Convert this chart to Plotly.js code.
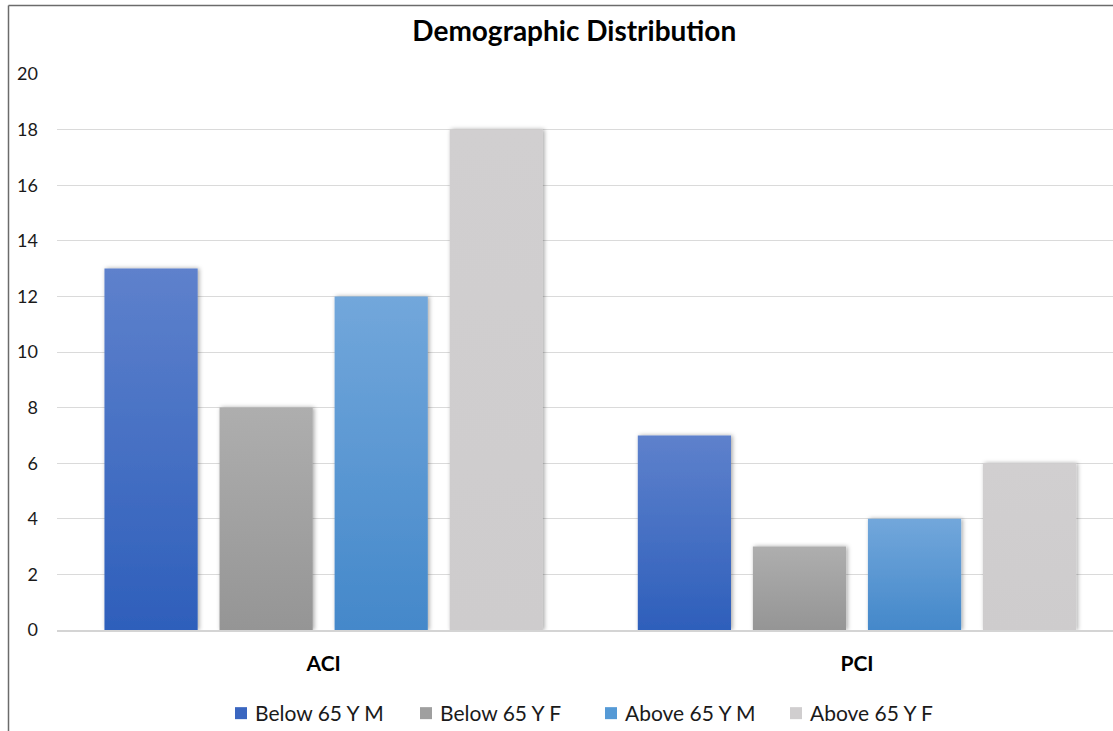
<!DOCTYPE html>
<html>
<head>
<meta charset="utf-8">
<script src="https://cdn.plot.ly/plotly-3.0.1.min.js"></script>
<style>
  html, body { margin: 0; padding: 0; background: #ffffff; }
  #chart { width: 1113px; height: 731px; }
</style>
</head>
<body>
<div id="chart"></div>
<script>
// Procedure groups on the x axis
const categories = ['ACI', 'PCI'];

// Patient counts per demographic group
const seriesNames = ['Below 65 Y M', 'Below 65 Y F', 'Above 65 Y M', 'Above 65 Y F'];
const below65Male   = [13, 7];
const below65Female = [8, 3];
const above65Male   = [12, 4];
const above65Female = [18, 6];

const yTicks = [0, 2, 4, 6, 8, 10, 12, 14, 16, 18, 20];

// Solid colours (legend swatches) and top/bottom gradient stops for the bars
const solidColors = ['#3a66c0', '#9f9f9f', '#559ad6', '#d0cecf'];
const gradTop     = ['#5e81cc', '#aeaeae', '#72a7db', '#d1cfd0'];
const gradBottom  = ['#2e5fbb', '#959595', '#4488ca', '#cecccd'];

const values = [below65Male, below65Female, above65Male, above65Female];
const FONT = 'Lato, "Open Sans", sans-serif';

const traces = values.map((v, i) => ({
  type: 'bar',
  name: seriesNames[i],
  x: categories,
  y: v,
  marker: { color: solidColors[i], line: { width: 0 } },
  hoverinfo: 'x+y+name'
}));

const W = 1113, H = 731, ML = 57, MT = 74, MB = 101;
const plotW = W - ML, plotH = H - MT - MB;
const px = x => (x - ML) / plotW;
const py = y => (H - MB - y) / plotH;

const layout = {
  width: W,
  height: H,
  paper_bgcolor: '#ffffff',
  plot_bgcolor: '#ffffff',
  margin: { l: ML, r: 0, t: MT, b: MB, autoexpand: false },
  font: { family: FONT, color: '#000000' },
  title: {
    text: '<b>Demographic Distribution</b>',
    font: { family: FONT, size: 28, color: '#000000' },
    x: 0.516, xanchor: 'center',
    y: 0.958, yanchor: 'middle'
  },
  barmode: 'group',
  bargap: 0.137,
  bargroupgap: 0.19,
  xaxis: {
    type: 'category',
    range: [-0.5, 1.48],
    showgrid: false,
    showline: true,
    linecolor: '#d4d4d4',
    linewidth: 1.5,
    ticks: '',
    tickfont: { family: FONT, size: 21, color: '#000000', weight: 'bold' },
    ticklabelstandoff: 14
  },
  yaxis: {
    range: [0, 20],
    tickvals: yTicks,
    showgrid: true,
    gridcolor: '#dadada',
    gridwidth: 1,
    zeroline: false,
    showline: false,
    ticks: '',
    tickfont: { family: FONT, size: 18, color: '#1a1a1a' },
    ticklabelstandoff: 18
  },
  legend: {
    orientation: 'h',
    x: (215 - ML) / plotW, xanchor: 'left',
    y: py(693), yanchor: 'top',
    font: { family: FONT, size: 21, color: '#1a1a1a' },
    itemwidth: 30,
    entrywidth: 140,
    entrywidthmode: 'pixels',
    traceorder: 'normal'
  },
  // Outer chart frame (left and top edges)
  shapes: [
    { type: 'line', xref: 'paper', yref: 'paper', x0: px(8.5), x1: px(8.5), y0: py(731), y1: py(5.5),
      line: { color: '#6b6b6b', width: 1.5 } },
    { type: 'line', xref: 'paper', yref: 'paper', x0: px(8.5), x1: px(1113), y0: py(5.5), y1: py(5.5),
      line: { color: '#6b6b6b', width: 1.5 } }
  ],
  showlegend: true
};

function decorateBars() {
  const svg = document.querySelector('#chart .main-svg');
  if (!svg) return;
  const ns = 'http://www.w3.org/2000/svg';
  let defs = svg.querySelector('defs');
  if (!defs) { defs = document.createElementNS(ns, 'defs'); svg.insertBefore(defs, svg.firstChild); }

  // soft shadow beside each bar
  const filter = document.createElementNS(ns, 'filter');
  filter.setAttribute('id', 'barShadow');
  filter.setAttribute('x', '-20%'); filter.setAttribute('y', '-5%');
  filter.setAttribute('width', '140%'); filter.setAttribute('height', '110%');
  const ds = document.createElementNS(ns, 'feDropShadow');
  ds.setAttribute('dx', '1.5'); ds.setAttribute('dy', '0');
  ds.setAttribute('stdDeviation', '2');
  ds.setAttribute('flood-color', '#000000'); ds.setAttribute('flood-opacity', '0.35');
  filter.appendChild(ds);
  defs.appendChild(filter);

  gradTop.forEach((top, i) => {
    const lg = document.createElementNS(ns, 'linearGradient');
    lg.setAttribute('id', 'barGrad' + i);
    lg.setAttribute('x1', '0'); lg.setAttribute('y1', '0');
    lg.setAttribute('x2', '0'); lg.setAttribute('y2', '1');
    const s1 = document.createElementNS(ns, 'stop');
    s1.setAttribute('offset', '0'); s1.setAttribute('stop-color', top);
    const s2 = document.createElementNS(ns, 'stop');
    s2.setAttribute('offset', '1'); s2.setAttribute('stop-color', gradBottom[i]);
    lg.appendChild(s1); lg.appendChild(s2);
    defs.appendChild(lg);
  });

  document.querySelectorAll('#chart .barlayer .trace').forEach((tr, i) => {
    tr.querySelectorAll('.point path').forEach(p => {
      p.style.fill = 'url(#barGrad' + i + ')';
      p.style.fillOpacity = '1';
      p.setAttribute('filter', 'url(#barShadow)');
    });
  });

  // pull each legend swatch a little closer to its label
  document.querySelectorAll('#chart .legend .legendsymbols').forEach(g => {
    g.setAttribute('transform', 'translate(6,0)');
  });
}

Plotly.newPlot('chart', traces, layout, { displayModeBar: false, staticPlot: true })
  .then(decorateBars);
</script>
</body>
</html>
